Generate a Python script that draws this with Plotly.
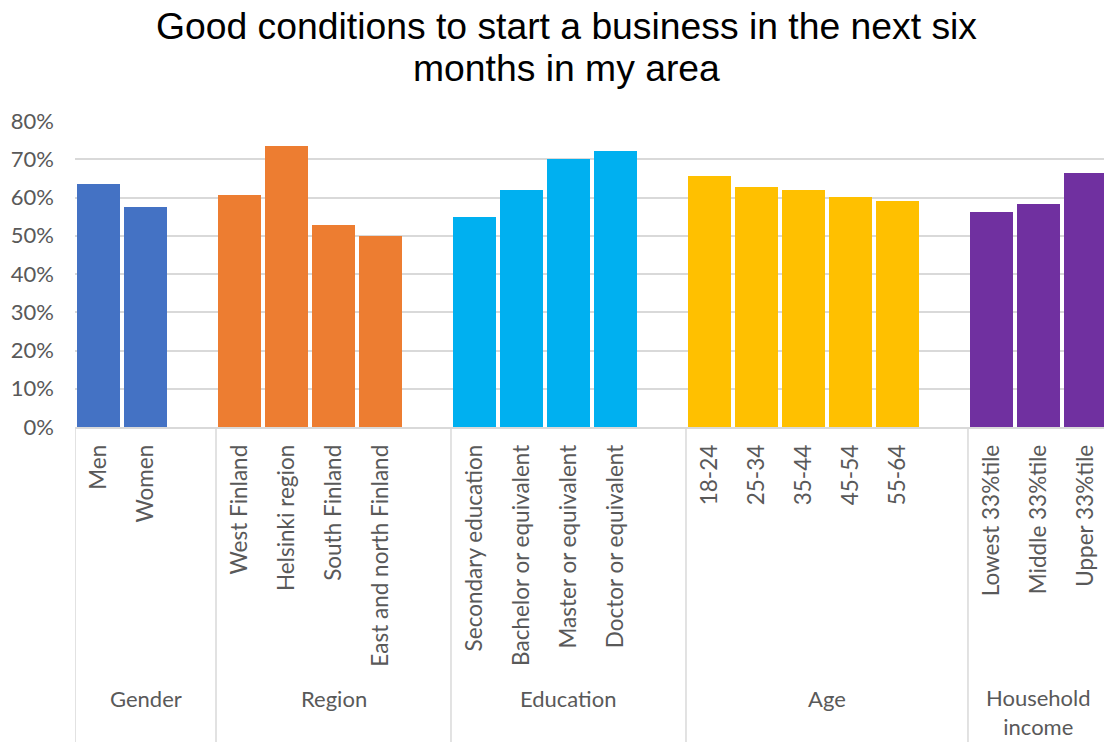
import plotly.graph_objects as go

# Survey share answering "good conditions" by respondent group
groups = ["Gender", "Region", "Education", "Age", "Household<br>income"]
gender = ["Men", "Women"]
gender_vals = [0.635, 0.575]
region = ["West Finland", "Helsinki region", "South Finland", "East and north Finland"]
region_vals = [0.607, 0.735, 0.528, 0.500]
education = ["Secondary education", "Bachelor or equivalent", "Master or equivalent", "Doctor or equivalent"]
education_vals = [0.549, 0.620, 0.701, 0.722]
age = ["18-24", "25-34", "35-44", "45-54", "55-64"]
age_vals = [0.656, 0.628, 0.620, 0.601, 0.591]
income = ["Lowest 33%tile", "Middle 33%tile", "Upper 33%tile"]
income_vals = [0.562, 0.583, 0.664]
title_lines = ["Good conditions to start a business in the next six", "months in my area"]

colors = ["#4472C4", "#ED7D31", "#00B0F0", "#FFC000", "#7030A0"]
series = [(gender, gender_vals), (region, region_vals), (education, education_vals),
          (age, age_vals), (income, income_vals)]

LABEL_FONT = "Lato, Calibri, Carlito, sans-serif"
GREY = "#595959"
GRID = "#D9D9D9"
X_MAX = 21.394

fig = go.Figure()

# one empty slot between groups, like a multi-level category axis
tickvals, ticktext = [], []
group_spans = []
slot = 0
for (cats, vals), col in zip(series, colors):
    xs = list(range(slot, slot + len(cats)))
    fig.add_trace(go.Bar(x=xs, y=vals, marker=dict(color=col, line=dict(width=0)),
                         width=0.915, showlegend=False, hoverinfo="skip"))
    tickvals += xs
    ticktext += cats
    group_spans.append((slot, slot + len(cats) - 1))
    slot += len(cats) + 1

# separators between the groups below the axis
bounds = [-0.5] + [end + 1.5 for _, end in group_spans[:-1]]
for b in bounds:
    fig.add_shape(type="line", xref="x", yref="paper", x0=b, x1=b, y0=0, y1=-1.05,
                  line=dict(color=GRID, width=1.5))

# group names, centred between their separators
rights = bounds[1:] + [21.5]
for name, left, right in zip(groups, bounds, rights):
    yy = -0.933 if "<br>" in name else -0.886
    fig.add_annotation(x=(left + right) / 2, y=yy, xref="x", yref="paper", text=name,
                       showarrow=False, xanchor="center", yanchor="middle",
                       font=dict(family=LABEL_FONT, size=22, color=GREY))

# two-line chart title
for line, yy in zip(title_lines, [1.3105, 1.1732]):
    fig.add_annotation(x=0.478, y=yy, xref="paper", yref="paper", text=line,
                       showarrow=False, xanchor="center", yanchor="middle",
                       font=dict(family="Liberation Sans, Arial, sans-serif", size=37.3,
                                 color="#000000"))

fig.update_layout(
    width=1104, height=742,
    margin=dict(l=75, r=0, t=121, b=315),
    paper_bgcolor="white", plot_bgcolor="white",
    bargap=0,
    xaxis=dict(range=[-0.5, X_MAX], tickmode="array", tickvals=tickvals, ticktext=ticktext,
               tickangle=-90, tickfont=dict(family=LABEL_FONT, size=22.5, color=GREY),
               showgrid=False, zeroline=False, showline=True, linecolor=GRID, linewidth=1.5,
               ticks="", ticklabelstandoff=7),
    yaxis=dict(range=[0, 0.8], dtick=0.1, tickformat=".0%", showgrid=True, gridcolor=GRID,
               gridwidth=1.5, zeroline=False, showline=False, ticks="",
               tickfont=dict(family=LABEL_FONT, size=22, color=GREY), ticklabelstandoff=20),
)

fig.write_html("out.html")
